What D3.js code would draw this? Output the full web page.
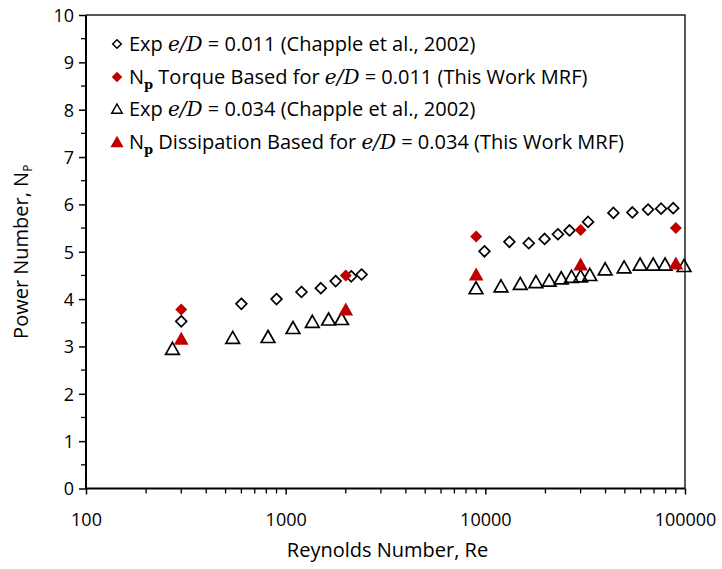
<!DOCTYPE html>
<html>
<head>
<meta charset="utf-8">
<script src="https://cdn.jsdelivr.net/npm/d3@7"></script>
<style>
  html, body { margin: 0; padding: 0; background: #fff; }
  svg { display: block; }
  text { font-family: "Open Sans", Lato, "Liberation Sans", sans-serif; fill: #000; }
</style>
</head>
<body>
<svg id="chart" width="722" height="569"></svg>
<script>
// Experimental power numbers, e/D = 0.011 (Chapple et al., 2002)
const expRe011 = [300, 600, 900, 1200, 1500, 1780, 2130, 2400, 9900, 13200, 16500, 19800, 23100, 26400, 32700, 43800, 54500, 65300, 75900, 87300];
const expNp011 = [3.53, 3.90, 4.00, 4.15, 4.23, 4.38, 4.48, 4.52, 5.01, 5.21, 5.18, 5.27, 5.37, 5.45, 5.63, 5.82, 5.83, 5.89, 5.91, 5.92];

// Torque-based power numbers, e/D = 0.011 (MRF simulations)
const mrfRe011 = [300, 2000, 9000, 30000, 90000];
const mrfNp011 = [3.78, 4.50, 5.32, 5.46, 5.50];

// Experimental power numbers, e/D = 0.034 (Chapple et al., 2002)
const expRe034 = [271, 543, 816, 1088, 1360, 1640, 1905, 8980, 11980, 14960, 17920, 20890, 23990, 27020, 30000, 33370, 39810, 49550, 59570, 69300, 79430, 98900];
const expNp034 = [2.95, 3.18, 3.20, 3.39, 3.52, 3.57, 3.58, 4.23, 4.27, 4.32, 4.36, 4.39, 4.44, 4.47, 4.48, 4.51, 4.63, 4.67, 4.73, 4.73, 4.73, 4.70];

// Dissipation-based power numbers, e/D = 0.034 (MRF simulations)
const mrfRe034 = [300, 2000, 9000, 30000, 90000];
const mrfNp034 = [3.16, 3.78, 4.52, 4.73, 4.75];

const xTickValues = [100, 1000, 10000, 100000];
const yTickValues = [0, 1, 2, 3, 4, 5, 6, 7, 8, 9, 10];

const RED = "#C00000";

const svg = d3.select("#chart");
const plot = { left: 86, right: 685, top: 15, bottom: 488.5 };

const x = d3.scaleLog().domain([100, 100000]).range([plot.left, plot.right]);
const y = d3.scaleLinear().domain([0, 10]).range([plot.bottom, plot.top]);

// Plot-area frame (top and right edges)
svg.append("path")
  .attr("d", `M${plot.left},${plot.top}H${plot.right}V${plot.bottom}`)
  .attr("fill", "none").attr("stroke", "#222").attr("stroke-width", 1.5);

// Minor x ticks: 2..9 within each decade
const xMinor = [];
for (let d = 100; d < 100000; d *= 10) for (let k = 2; k <= 9; k++) xMinor.push(d * k);

const xAxis = svg.append("g").attr("transform", `translate(0,${plot.bottom})`);
xAxis.call(d3.axisBottom(x).tickValues(xTickValues).tickSize(6).tickFormat(d3.format("d")));
xAxis.append("g").selectAll("line").data(xMinor).join("line")
  .attr("x1", d => x(d)).attr("x2", d => x(d)).attr("y1", 0).attr("y2", 5)
  .attr("stroke", "#000").attr("stroke-width", 1.3);
xAxis.select(".domain").attr("stroke-width", 2).attr("d", `M${plot.left},0H${plot.right}`);
xAxis.selectAll(".tick line").attr("stroke-width", 1.5);
xAxis.selectAll(".tick text").attr("font-size", 18).attr("dy", 0).attr("y", 37);

const yMinor = d3.range(0.5, 10, 1);
const yAxis = svg.append("g").attr("transform", `translate(${plot.left},0)`);
yAxis.call(d3.axisLeft(y).tickValues(yTickValues).tickSize(7));
yAxis.append("g").selectAll("line").data(yMinor).join("line")
  .attr("y1", d => y(d)).attr("y2", d => y(d)).attr("x1", 0).attr("x2", -5)
  .attr("stroke", "#000").attr("stroke-width", 1.3);
yAxis.select(".domain").attr("stroke-width", 2).attr("d", `M0,${plot.bottom}V${plot.top}`);
yAxis.selectAll(".tick line").attr("stroke-width", 1.5);
yAxis.selectAll(".tick text").attr("font-size", 18).attr("x", -12).attr("dy", "0.35em");
svg.selectAll(".domain").attr("stroke", "#000");

// Axis titles
svg.append("text").attr("x", (plot.left + plot.right) / 2 + 2).attr("y", 557)
  .attr("text-anchor", "middle").attr("font-size", 20).text("Reynolds Number, Re");

const yTitle = svg.append("text")
  .attr("transform", `translate(28,${(plot.top + plot.bottom) / 2}) rotate(-90)`)
  .attr("text-anchor", "middle").attr("font-size", 20);
yTitle.append("tspan").text("Power Number, N");
yTitle.append("tspan").attr("font-size", 12).attr("dy", 4).text("P");

// Marker shapes
const diamond = s => `M0,${-s}L${s},0L0,${s}L${-s},0Z`;
const triangle = s => `M0,${-s}L${s * 1.05},${s * 0.85}L${-s * 1.05},${s * 0.85}Z`;

function drawSeries(xs, ys, shape, size, fill, stroke) {
  svg.append("g").selectAll("path").data(xs.map((v, i) => [v, ys[i]])).join("path")
    .attr("transform", d => `translate(${x(d[0])},${y(d[1])})`)
    .attr("d", shape(size))
    .attr("fill", fill)
    .attr("stroke", stroke)
    .attr("stroke-width", stroke === "none" ? 0 : 1.7)
    .attr("stroke-linejoin", "miter");
}

drawSeries(expRe034, expNp034, triangle, 6.5, "none", "#000");
drawSeries(expRe011, expNp011, diamond, 5.4, "none", "#000");
drawSeries(mrfRe011, mrfNp011, diamond, 6, RED, "none");
drawSeries(mrfRe034, mrfNp034, triangle, 7, RED, "none");

// Legend
const legendItems = [
  { shape: diamond, size: 4.3, fill: "none", stroke: "#000", parts: [["Exp "], ["e/D", "it"], [" = 0.011 (Chapple et al., 2002)"]] },
  { shape: diamond, size: 5.3, fill: RED, stroke: "none", parts: [["N"], ["p", "sub"], [" Torque Based for ", "after"], ["e/D", "it"], [" = 0.011 (This Work MRF)"]] },
  { shape: triangle, size: 5, fill: "none", stroke: "#000", parts: [["Exp "], ["e/D", "it"], [" = 0.034 (Chapple et al., 2002)"]] },
  { shape: triangle, size: 6.3, fill: RED, stroke: "none", parts: [["N"], ["p", "sub"], [" Dissipation Based for ", "after"], ["e/D", "it"], [" = 0.034 (This Work MRF)"]] }
];
const legendRowY = [44, 77, 109, 142];
const legend = svg.append("g");
legendItems.forEach((item, i) => {
  const g = legend.append("g").attr("transform", `translate(0,${legendRowY[i]})`);
  g.append("path").attr("transform", "translate(117,0)").attr("d", item.shape(item.size))
    .attr("fill", item.fill).attr("stroke", item.stroke)
    .attr("stroke-width", item.stroke === "none" ? 0 : 1.5);
  const t = g.append("text").attr("x", 129).attr("y", 0).attr("dy", "0.35em").attr("font-size", 20);
  item.parts.forEach(([str, style]) => {
    const ts = t.append("tspan").text(str);
    if (style === "it") ts.attr("font-family", "'DejaVu Serif', 'Liberation Serif', serif").attr("font-style", "italic").attr("font-size", 20);
    if (style === "sub") ts.attr("font-family", "'DejaVu Serif', 'Liberation Serif', serif").attr("font-size", 13).attr("font-weight", "bold").attr("dy", 5);
    if (style === "after") ts.attr("dy", -5);
  });
});
</script>
</body>
</html>
